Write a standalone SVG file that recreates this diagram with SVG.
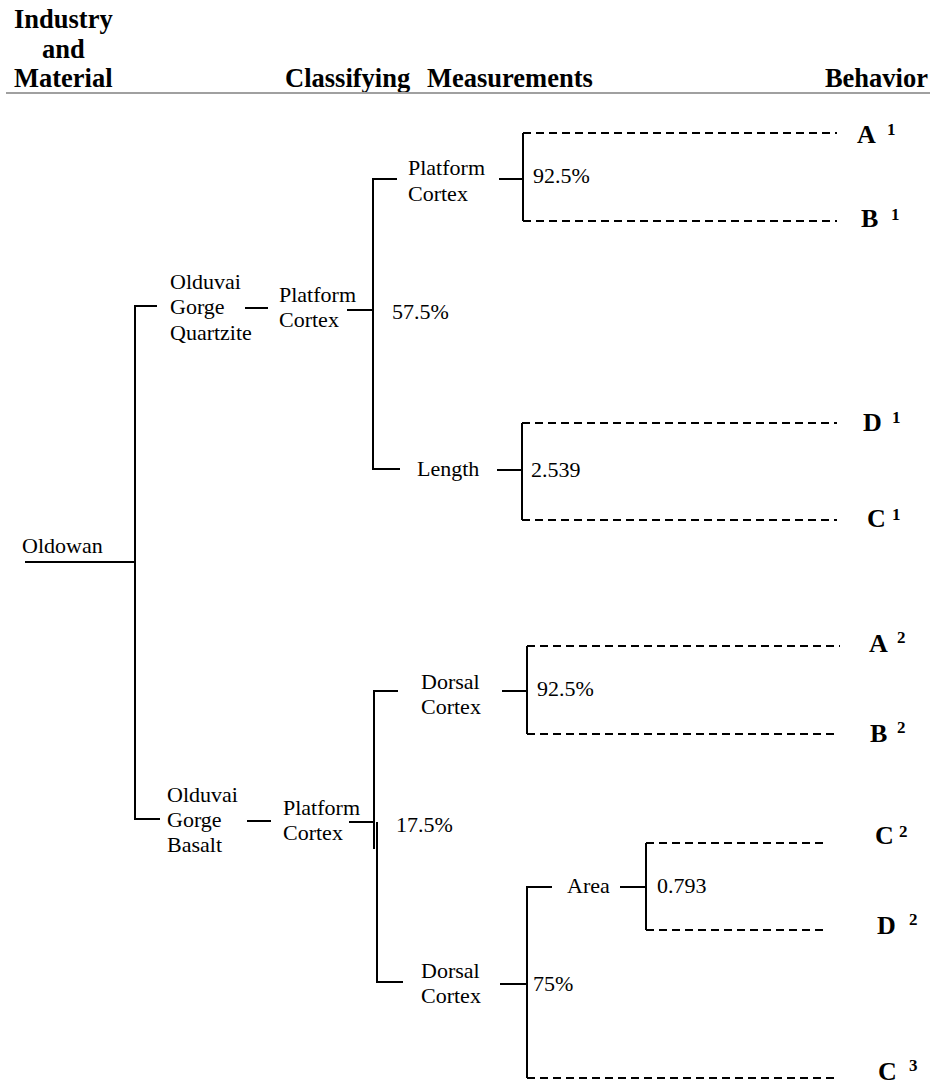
<svg xmlns="http://www.w3.org/2000/svg" width="940" height="1087" viewBox="0 0 940 1087">
<style>
.h{font-family:"Liberation Serif","Times New Roman",serif;font-weight:bold;font-size:26.5px;fill:#000}
.t{font-family:"Liberation Serif","Times New Roman",serif;font-size:22px;fill:#000}
.b{font-family:"Liberation Serif","DejaVu Serif",serif;font-weight:bold;font-size:26px;fill:#000}
.s{font-family:"Liberation Serif","DejaVu Serif",serif;font-weight:bold;font-size:17px;fill:#000}
.ln{stroke:#000;stroke-width:2;fill:none}
.dl{stroke:#000;stroke-width:2;fill:none;stroke-dasharray:8 5}
</style>
<rect width="940" height="1087" fill="#fff"/>
<g id="header">
<text class="h" x="14" y="28">Industry</text>
<text class="h" x="42" y="58">and</text>
<text class="h" x="14" y="87">Material</text>
<text class="h" x="285" y="87">Classifying</text>
<text class="h" x="427" y="87">Measurements</text>
<text class="h" x="928" y="87" text-anchor="end">Behavior</text>
<line x1="6" y1="93" x2="930" y2="93" stroke="#a0a0a0" stroke-width="2"/>
</g>
<g id="connectors">
<line class="ln" x1="25" y1="562" x2="135" y2="562"/>
<polyline class="ln" points="157,306 135,306 135,819 160,819"/>
<line class="ln" x1="245" y1="308" x2="268" y2="308"/>
<line class="ln" x1="347" y1="310" x2="373" y2="310"/>
<polyline class="ln" points="397,179 373,179 373,469 400,469"/>
<line class="ln" x1="499" y1="179" x2="523" y2="179"/>
<line class="ln" x1="523" y1="133" x2="523" y2="221"/>
<line class="dl" x1="523" y1="133" x2="837" y2="133"/>
<line class="dl" x1="523" y1="221" x2="837" y2="221"/>
<line class="ln" x1="497" y1="470" x2="522" y2="470"/>
<line class="ln" x1="522" y1="423" x2="522" y2="520"/>
<line class="dl" x1="522" y1="423" x2="837" y2="423"/>
<line class="dl" x1="522" y1="520" x2="837" y2="520"/>
<line class="ln" x1="247" y1="821" x2="271" y2="821"/>
<line class="ln" x1="349" y1="822" x2="374" y2="822"/>
<polyline class="ln" points="398,691 374,691 374,849"/>
<polyline class="ln" points="377,822 377,982 403,982"/>
<line class="ln" x1="502" y1="691" x2="527" y2="691"/>
<line class="ln" x1="527" y1="646" x2="527" y2="734"/>
<line class="dl" x1="527" y1="646" x2="840" y2="646"/>
<line class="dl" x1="527" y1="734" x2="838" y2="734"/>
<line class="ln" x1="500" y1="984" x2="527" y2="984"/>
<polyline class="ln" points="552,887 527,887 527,1078"/>
<line class="dl" x1="527" y1="1078" x2="838" y2="1078"/>
<line class="ln" x1="620" y1="887" x2="646" y2="887"/>
<line class="ln" x1="646" y1="843" x2="646" y2="930"/>
<line class="dl" x1="646" y1="843" x2="828" y2="843"/>
<line class="dl" x1="646" y1="930" x2="828" y2="930"/>
</g>
<g id="oldowan"><text class="t" x="22" y="553">Oldowan</text></g>
<g id="quartzite"><text class="t" x="170" y="289">Olduvai</text><text class="t" x="170" y="314">Gorge</text><text class="t" x="170" y="340">Quartzite</text></g>
<g id="q-platform"><text class="t" x="279" y="302">Platform</text><text class="t" x="279" y="327">Cortex</text><text class="t" x="392" y="319">57.5%</text></g>
<g id="q-platform2"><text class="t" x="408" y="175">Platform</text><text class="t" x="408" y="201">Cortex</text><text class="t" x="533" y="183">92.5%</text></g>
<g id="q-length"><text class="t" x="417" y="476">Length</text><text class="t" x="531" y="477">2.539</text></g>
<g id="basalt"><text class="t" x="167" y="802">Olduvai</text><text class="t" x="167" y="827">Gorge</text><text class="t" x="167" y="852">Basalt</text></g>
<g id="b-platform"><text class="t" x="283" y="815">Platform</text><text class="t" x="283" y="840">Cortex</text><text class="t" x="396" y="832">17.5%</text></g>
<g id="b-dorsal1"><text class="t" x="421" y="689">Dorsal</text><text class="t" x="421" y="714">Cortex</text><text class="t" x="537" y="696">92.5%</text></g>
<g id="b-dorsal2"><text class="t" x="421" y="978">Dorsal</text><text class="t" x="421" y="1003">Cortex</text><text class="t" x="533" y="991">75%</text></g>
<g id="b-area"><text class="t" x="567" y="893">Area</text><text class="t" x="657" y="893">0.793</text></g>
<g id="A1"><text class="b" x="857" y="143">A</text><text class="s" x="887" y="135">1</text></g>
<g id="B1"><text class="b" x="861" y="227">B</text><text class="s" x="891" y="220">1</text></g>
<g id="D1"><text class="b" x="863" y="431">D</text><text class="s" x="892" y="423">1</text></g>
<g id="C1"><text class="b" x="867" y="527">C</text><text class="s" x="892" y="520">1</text></g>
<g id="A2"><text class="b" x="869" y="652">A</text><text class="s" x="897" y="643">2</text></g>
<g id="B2"><text class="b" x="870" y="742">B</text><text class="s" x="897" y="733">2</text></g>
<g id="C2"><text class="b" x="875" y="844">C</text><text class="s" x="899" y="837">2</text></g>
<g id="D2"><text class="b" x="877" y="934">D</text><text class="s" x="909" y="925">2</text></g>
<g id="C3"><text class="b" x="878" y="1080">C</text><text class="s" x="909" y="1071">3</text></g>
</svg>
